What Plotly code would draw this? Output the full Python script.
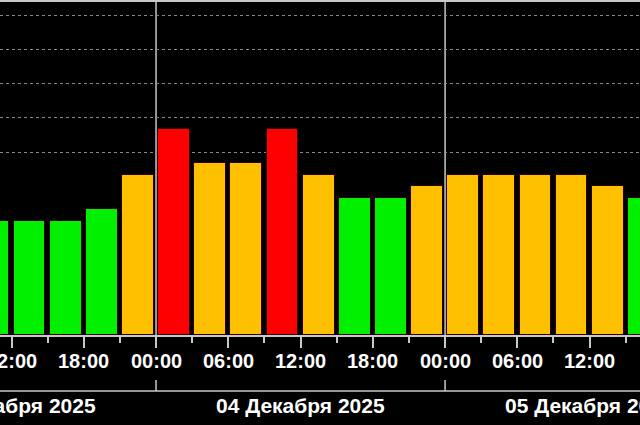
import plotly.graph_objects as go

# 3-hour Kp index, start of each interval
times = [
    "2025-12-03 09:00", "2025-12-03 12:00", "2025-12-03 15:00", "2025-12-03 18:00", "2025-12-03 21:00",
    "2025-12-04 00:00", "2025-12-04 03:00", "2025-12-04 06:00", "2025-12-04 09:00",
    "2025-12-04 12:00", "2025-12-04 15:00", "2025-12-04 18:00", "2025-12-04 21:00",
    "2025-12-05 00:00", "2025-12-05 03:00", "2025-12-05 06:00", "2025-12-05 09:00",
    "2025-12-05 12:00", "2025-12-05 15:00",
]
kp = [3.0, 3.0, 3.0, 3.33, 4.33,
      5.67, 4.67, 4.67, 5.67, 4.33, 3.67, 3.67, 4.0,
      4.33, 4.33, 4.33, 4.33, 4.0, 3.67]

tick_times = ["2025-12-03 12:00", "2025-12-03 18:00",
              "2025-12-04 00:00", "2025-12-04 06:00", "2025-12-04 12:00", "2025-12-04 18:00",
              "2025-12-05 00:00", "2025-12-05 06:00", "2025-12-05 12:00", "2025-12-05 18:00"]
tick_labels = ["12:00", "18:00", "00:00", "06:00", "12:00", "18:00", "00:00", "06:00", "12:00", "18:00"]

days = ["2025-12-03", "2025-12-04", "2025-12-05"]
day_labels = ["03 Декабря 2025", "04 Декабря 2025", "05 Декабря 2025"]
midnights = ["2025-12-04 00:00", "2025-12-05 00:00"]

y_min = -0.34
H3 = 3 * 3600 * 1000

def kp_color(v):
    if v < 4:
        return "#00f000"
    if v < 5:
        return "#ffc000"
    return "#ff0000"

fig = go.Figure()
fig.add_trace(go.Bar(
    x=times,
    y=[v - y_min for v in kp],
    base=y_min,
    xperiod=H3,
    xperiodalignment="middle",
    width=H3 * 0.88,
    marker=dict(color=[kp_color(v) for v in kp], line=dict(color="#2a0000", width=1)),
))

grey = "#c8c8c8"
font = dict(family="Liberation Sans, Arial", size=20, color="white", weight="bold")

# day separators
for m in midnights:
    fig.add_shape(type="line", x0=m, x1=m, y0=0, y1=1, yref="paper",
                  line=dict(color=grey, width=1.5), layer="below")
    fig.add_shape(type="line", x0=m, x1=m, y0=-0.135, y1=-0.168, yref="paper",
                  line=dict(color=grey, width=1.5))
fig.add_shape(type="line", x0=0, x1=1, xref="paper", y0=-0.168, y1=-0.168, yref="paper",
              line=dict(color=grey, width=1.5))

# hour labels (annotations so the edge ones can run off the page)
for t, lab in zip(tick_times, tick_labels):
    fig.add_annotation(x=t, y=-0.078, yref="paper", text=lab, showarrow=False,
                       font=font, yanchor="middle")

for d, lab in zip(days, day_labels):
    fig.add_annotation(x=d + " 12:00", y=-0.213, yref="paper", text=lab, showarrow=False,
                       font=dict(font, size=21), yanchor="middle")

fig.update_layout(
    width=640, height=425,
    margin=dict(l=0, r=0, t=2, b=90, pad=0, autoexpand=False),
    paper_bgcolor="black", plot_bgcolor="black",
    showlegend=False,
    bargap=0,
)
fig.update_xaxes(
    type="date",
    range=["2025-12-03 11:02:40", "2025-12-05 16:11:00"],
    tick0="2025-12-03 00:00", dtick=2 * H3, showticklabels=False,
    ticks="outside", ticklen=11, tickcolor=grey, tickwidth=1.5,
    minor=dict(dtick=H3, ticks="outside", ticklen=6, tickcolor=grey, showgrid=False),
    showgrid=False, showline=True, linecolor=grey, linewidth=1.5, mirror=True,
    automargin=False, fixedrange=True,
)
fig.update_yaxes(
    range=[y_min, 9.38],
    tickvals=[5, 6, 7, 8, 9], showticklabels=False, showline=False,
    showgrid=True, gridcolor="#8a8a8a", griddash="3px,3px", gridwidth=1,
    zeroline=False, automargin=False,
)

fig.write_html("out.html", config={"displayModeBar": False},
               post_script="document.body.style.margin='0';document.body.style.overflow='hidden';document.body.style.background='black';")
